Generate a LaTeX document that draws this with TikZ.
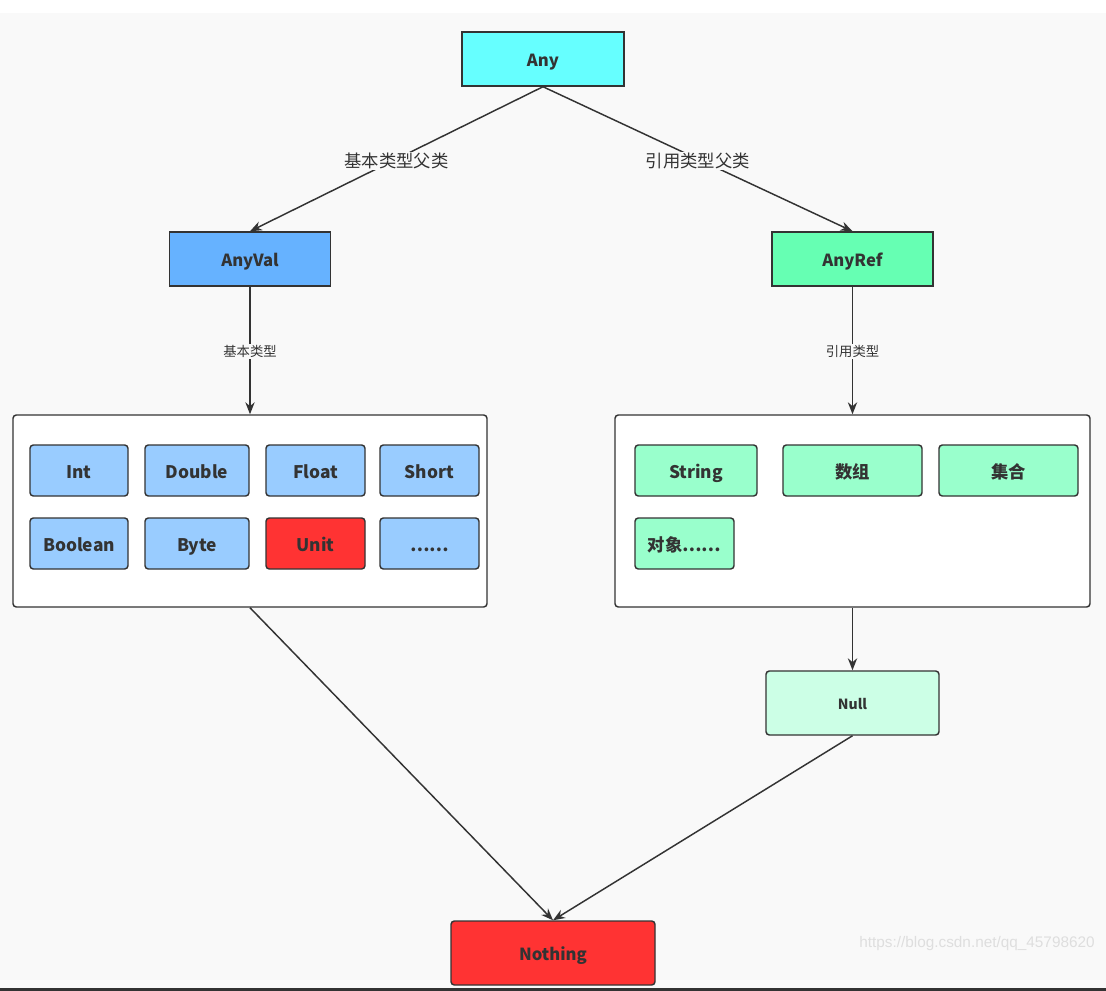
\documentclass[tikz,border=0pt]{standalone}
\usepackage{fontspec}
\setmainfont{Noto Sans CJK SC}
\newfontfamily\wmfont{Liberation Sans}
\usetikzlibrary{arrows.meta}
\definecolor{bgc}{HTML}{F9F9F9}
\definecolor{linec}{HTML}{333333}
\definecolor{anyc}{HTML}{66FFFF}
\definecolor{valc}{HTML}{66B2FF}
\definecolor{refc}{HTML}{66FFB3}
\definecolor{valitem}{HTML}{99CCFF}
\definecolor{refitem}{HTML}{99FFCC}
\definecolor{nullc}{HTML}{CCFFE6}
\definecolor{redc}{HTML}{FF3333}

\begin{document}
\begin{tikzpicture}[x=0.75pt, y=-0.75pt,
  box/.style={draw=linec, line width=1.1pt, text=linec, font=\bfseries\fontsize{12.5}{14}\selectfont,
    inner sep=0pt, text height=11.4pt, text depth=0pt, minimum height=40.5pt, minimum width=120.5pt},
  item/.style={box, rounded corners=2.5pt, minimum height=38.25pt, text height=12pt,
    font=\bfseries\fontsize{13}{15}\selectfont},
  group/.style={draw=linec, line width=1.1pt, fill=white, rounded corners=2.5pt, inner sep=0pt,
    minimum width=355.5pt, minimum height=144pt},
  arr/.style={draw=linec, line width=1.1pt, -{Stealth[length=9pt, width=7pt]}},
  biglabel/.style={fill=bgc, text=linec, inner sep=1pt, font=\fontsize{13}{15}\selectfont},
  smalllabel/.style={fill=bgc, text=linec, inner sep=1pt, font=\fontsize{10}{12}\selectfont}]
%background
\useasboundingbox (0,0) rectangle (1106,991);
\fill[white] (0,0) rectangle (1106,13);
\fill[bgc] (0,13) rectangle (1106,988);
\fill[linec] (0,988) rectangle (1106,991);
%top level
\node[box, fill=anyc, minimum width=121.5pt] (any) at (543,59) {Any};
\node[box, fill=valc] (anyval) at (250,259) {AnyVal};
\node[box, fill=refc] (anyref) at (852.5,259) {AnyRef};
\draw[arr] (any.south) -- node[biglabel, yshift=-1.5pt]{基本类型父类} (anyval.north);
\draw[arr] (any.south) -- node[biglabel, yshift=-1.5pt]{引用类型父类} (anyref.north);
%value types
\node[group] (vals) at (250,511) {};
\draw[arr] (anyval.south) -- node[smalllabel, yshift=-1pt]{基本类型} (vals.north);
\node[item, fill=valitem, minimum width=73.5pt] (int) at (79,470.5) {Int};
\node[item, fill=valitem, minimum width=78pt] (double) at (197,470.5) {Double};
\node[item, fill=valitem, minimum width=74.25pt] (float) at (315.5,470.5) {Float};
\node[item, fill=valitem, minimum width=74.25pt] (short) at (429.5,470.5) {Short};
\node[item, fill=valitem, minimum width=73.5pt] (boolean) at (79,543.5) {Boolean};
\node[item, fill=valitem, minimum width=78pt] (byte) at (197,543.5) {Byte};
\node[item, fill=redc, minimum width=74.25pt] (unit) at (315.5,543.5) {Unit};
\node[item, fill=valitem, minimum width=74.25pt] (moreval) at (429.5,543.5) {……};
%reference types
\node[group, minimum width=356.25pt] (refs) at (852.5,511) {};
\draw[arr] (anyref.south) -- node[smalllabel, yshift=-1pt]{引用类型} (refs.north);
\node[item, fill=refitem, minimum width=91.5pt] (string) at (696,470.5) {String};
\node[item, fill=refitem, minimum width=104.25pt] (array) at (852.5,470.5) {数组};
\node[item, fill=refitem, minimum width=104.25pt] (coll) at (1008.5,470.5) {集合};
\node[item, fill=refitem, minimum width=74.25pt] (obj) at (684.5,543.5) {对象……};
%bottom
\node[box, rounded corners=2.5pt, fill=nullc, minimum width=129.75pt, minimum height=48pt,
  text height=9.6pt, font=\bfseries\fontsize{10.5}{12}\selectfont] (null) at (852.5,703) {Null};
\node[box, rounded corners=2.5pt, fill=redc, minimum width=153pt, minimum height=48pt] (nothing) at (553,953) {Nothing};
\draw[arr] (refs.south) -- (null.north);
\draw[arr] (vals.south) -- (nothing.north);
\draw[arr] (null.south) -- (nothing.north);
%watermark
\node[text=black!13, font=\wmfont\fontsize{11.5}{13}\selectfont] (mark) at (977,944) {https://blog.csdn.net/qq\_45798620};
\end{tikzpicture}
\end{document}
